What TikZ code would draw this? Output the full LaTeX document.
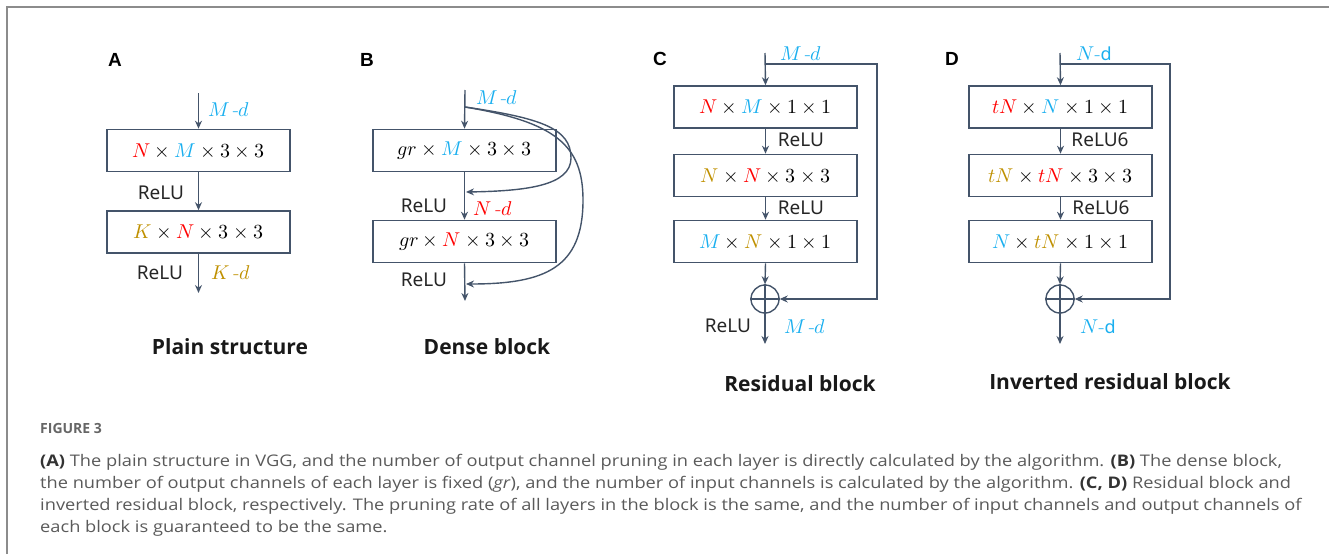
\documentclass[tikz,border=0pt]{standalone}
\usepackage{fontspec}
\usepackage{unicode-math}
\setmathfont{Latin Modern Math}
\usetikzlibrary{arrows.meta}
\newfontfamily\capfont[FakeStretch=1.14]{Open Sans}
\newfontfamily\ttlfont{Open Sans}
\newfontfamily\lblfont{Noto Sans}
\newfontfamily\panelfont{Liberation Sans}
\definecolor{lc}{HTML}{44546A}
\definecolor{cblue}{HTML}{1AAFEF}
\definecolor{cred}{HTML}{FF0000}
\definecolor{cgold}{HTML}{BF9000}
\definecolor{frame}{HTML}{8C8C8C}
\definecolor{capgray}{HTML}{5A5A5A}
\definecolor{capdark}{HTML}{333333}
\tikzset{
 box/.style={draw=lc, line width=1.6pt, minimum width=183pt, minimum height=42pt, inner sep=0pt, font=\fontsize{20}{24}\selectfont},
 arr/.style={draw=lc, line width=1.4pt, -{Stealth[length=8pt,width=7pt]}},
 ln/.style={draw=lc, line width=1.4pt},
 lbl/.style={font=\lblfont\fontsize{19}{22}\selectfont, text=black!85, inner sep=0pt},
 var/.style={font=\fontsize{20}{24}\selectfont, inner sep=0pt},
 ttl/.style={font=\ttlfont\bfseries\fontsize{21}{26}\selectfont, inner sep=0pt, text=black!90},
 pnl/.style={font=\panelfont\bfseries\fontsize{19}{22}\selectfont, inner sep=0pt},
 capl/.style={anchor=west, inner sep=0pt, font=\capfont\fontsize{16}{19}\selectfont, text=capgray},
 plus/.style={circle, draw=lc, line width=1.4pt, minimum size=28pt, inner sep=0pt},
}
\newcommand{\cb}[1]{{\color{cblue}#1}}
\newcommand{\cre}[1]{{\color{cred}#1}}
\newcommand{\cg}[1]{{\color{cgold}#1}}
\begin{document}
\begin{tikzpicture}[x=1pt,y=-1pt]
\useasboundingbox (0,0) rectangle (1329,554);
% frame
\draw[frame, line width=2pt] (7,554) -- (7,7) -- (1329,7);

% ---------------- Panel A
\node[pnl] (pA) at (115,60) {A};
\coordinate (a0) at (198.5,93);
\node[box] (a1) at (198.5,150.5) {$\cre{N}\times\cb{M}\times 3\times 3$};
\node[box] (a2) at (198.5,232) {$\cg{K}\times\cre{N}\times 3\times 3$};
\coordinate (a3) at (198.5,293);
\draw[arr] (a0) -- (a1.north);
\draw[arr] (a1.south) -- (a2.north);
\draw[arr] (a2.south) -- (a3);
\node[var] (am) at (229,110) {\cb{$M$\,-$d$}};
\node[lbl] (ar1) at (161,193) {ReLU};
\node[lbl] (ar2) at (160,273) {ReLU};
\node[var] (ak) at (231,273) {\cg{$K$\,-$d$}};
\node[ttl] (at) at (230,347) {Plain structure};

% ---------------- Panel B
\node[pnl] (pB) at (367,60) {B};
\coordinate (b0) at (465,90);
\coordinate (bs) at (465,107);
\node[box] (b1) at (464.5,150.5) {$gr\times\cb{M}\times 3\times 3$};
\node[box] (b2) at (464.5,241.5) {$gr\times\cre{N}\times 3\times 3$};
\coordinate (b3) at (465,301);
\coordinate (bi) at (466,192);
\coordinate (bo) at (466,284);
\draw[arr] (b0) -- (b1.north);
\draw[arr] (b1.south) -- (b2.north);
\draw[arr] (b2.south) -- (b3);
\draw[arr] (bs) .. controls (540,118) and (571,128) .. (571,158) .. controls (571,186) and (525,191) .. (bi);
\draw[arr] (bs) .. controls (555,122) and (583,145) .. (583,200) .. controls (583,268) and (545,284) .. (bo);
\node[var] (bm) at (497,98) {\cb{$M$\,-$d$}};
\node[lbl] (br1) at (424,206) {ReLU};
\node[var] (bn) at (493,209) {\cre{$N$\,-$d$}};
\node[lbl] (br2) at (424,280) {ReLU};
\node[ttl] (bt) at (487,347) {Dense block};

% ---------------- Panel C
\node[pnl] (pC) at (660,59) {C};
\coordinate (c0) at (765,53);
\coordinate (cs0) at (765,64);
\coordinate (cr) at (877,64);
\node[box] (c1) at (765.5,107) {$\cre{N}\times\cb{M}\times 1\times 1$};
\node[box] (c2) at (765.5,175.5) {$\cg{N}\times\cre{N}\times 3\times 3$};
\node[box] (c3) at (765.5,241.5) {$\cb{M}\times\cg{N}\times 1\times 1$};
\node[plus] (cp) at (765,299) {};
\coordinate (c4) at (765,344);
\draw[arr] (c0) -- (c1.north);
\draw[arr] (c1.south) -- (c2.north);
\draw[arr] (c2.south) -- (c3.north);
\draw[arr] (c3.south) -- (cp.north);
\draw[ln] (cp.north) -- (cp.south) (cp.west) -- (cp.east);
\draw[arr] (cp.south) -- (c4);
\draw[arr, line width=1.2pt] (cs0) -- (cr) |- (cp.east);
\node[var] (cm) at (801,54) {\cb{$M$\,-$d$}};
\node[lbl] (cr1) at (801,140) {ReLU};
\node[lbl] (cr2) at (801,208) {ReLU};
\node[lbl] (cr3) at (728,326) {ReLU};
\node[var] (cm2) at (805,327) {\cb{$M$\,-$d$}};
\node[ttl] (ct) at (800,384) {Residual block};

% ---------------- Panel D
\node[pnl] (pD) at (952,59) {D};
\coordinate (d0) at (1060,53);
\coordinate (ds0) at (1060,64);
\coordinate (dr) at (1170,64);
\node[box] (d1) at (1060.5,107) {$\cre{tN}\times\cb{N}\times 1\times 1$};
\node[box] (d2) at (1060.5,175.5) {$\cg{tN}\times\cre{tN}\times 3\times 3$};
\node[box] (d3) at (1060.5,241.5) {$\cb{N}\times\cg{tN}\times 1\times 1$};
\node[plus] (dp) at (1060,299) {};
\coordinate (d4) at (1060,344);
\draw[arr] (d0) -- (d1.north);
\draw[arr] (d1.south) -- (d2.north);
\draw[arr] (d2.south) -- (d3.north);
\draw[arr] (d3.south) -- (dp.north);
\draw[ln] (dp.north) -- (dp.south) (dp.west) -- (dp.east);
\draw[arr] (dp.south) -- (d4);
\draw[arr, line width=1.2pt] (ds0) -- (dr) |- (dp.east);
\node[var] (dm) at (1094,54) {\cb{$N$-{\lblfont\fontsize{18}{20}\selectfont d}}};
\node[lbl] (dr1) at (1100,140) {ReLU6};
\node[lbl] (dr2) at (1101,208) {ReLU6};
\node[var] (dm2) at (1098,327) {\cb{$N$-{\lblfont\fontsize{18}{20}\selectfont d}}};
\node[ttl] (dt) at (1110,382) {Inverted residual block};

% ---------------- Caption
\node[capl, font=\ttlfont\bfseries\fontsize{14}{16}\selectfont, text=black!60] (fig) at (40,428) {FIGURE 3};
\node[capl] (l1) at (40,462) {{\color{capdark}\bfseries(A)} The plain structure in VGG, and the number of output channel pruning in each layer is directly calculated by the algorithm. {\color{capdark}\bfseries(B)} The dense block,};
\node[capl] (l2) at (40,484) {the number of output channels of each layer is fixed (\textit{gr}), and the number of input channels is calculated by the algorithm. {\color{capdark}\bfseries(C, D)} Residual block and};
\node[capl] (l3) at (40,506) {inverted residual block, respectively. The pruning rate of all layers in the block is the same, and the number of input channels and output channels of};
\node[capl] (l4) at (40,528) {each block is guaranteed to be the same.};
\end{tikzpicture}
\end{document}
